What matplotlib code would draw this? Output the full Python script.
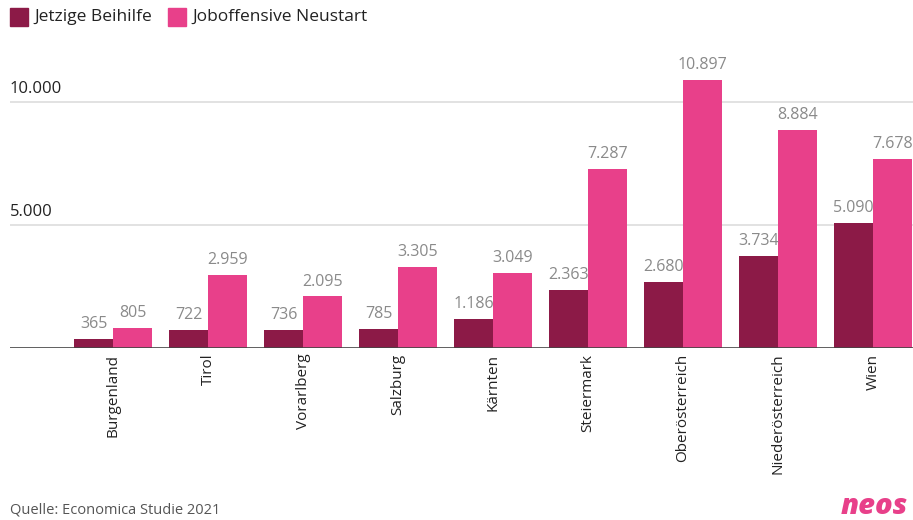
import numpy as np
import matplotlib.pyplot as plt
from matplotlib import transforms

# data
regions = ["Burgenland", "Tirol", "Vorarlberg", "Salzburg", "Kärnten",
           "Steiermark", "Oberösterreich", "Niederösterreich", "Wien"]
jetzige = [365, 722, 736, 785, 1186, 2363, 2680, 3734, 5090]
neustart = [805, 2959, 2095, 3305, 3049, 7287, 10897, 8884, 7678]
yticks = [5000, 10000]
series_names = ["Jetzige Beihilfe", "Joboffensive Neustart"]

dark = "#8c1a47"
pink = "#e8408a"


def fmt(v):
    return f"{v:,}".replace(",", ".")


plt.rcParams['font.family'] = ['Open Sans', 'DejaVu Sans']

fig = plt.figure(figsize=(9.13, 5.2), dpi=100)
ax = fig.add_axes([10 / 913, 172 / 520, 903 / 913, 295 / 520])

x = np.arange(len(regions))
w = 0.41
b1 = ax.bar(x - w / 2, jetzige, w, color=dark, zorder=3)
b2 = ax.bar(x + w / 2, neustart, w, color=pink, zorder=3)

ax.set_xlim(-1.084, 8.42)
ax.set_ylim(0, 12000)

for s in ax.spines.values():
    s.set_visible(False)
ax.axhline(0, color="#444444", lw=1.2, zorder=4)
offset = transforms.ScaledTranslation(0, 5 / 100, fig.dpi_scale_trans)
for t in yticks:
    ax.axhline(t, color="#dddddd", lw=1.2, zorder=1)
    ax.text(0, t, fmt(t), transform=ax.get_yaxis_transform() + offset,
            ha="left", va="bottom", fontsize=12, color="#222222")

ax.set_yticks([])
ax.set_xticks(x)
ax.set_xticklabels(regions, rotation=90, fontsize=11, color="#222222")
ax.tick_params(axis="x", length=0, pad=4)

for bars, vals in ((b1, jetzige), (b2, neustart)):
    for r, v in zip(bars, vals):
        ax.annotate(fmt(v), (r.get_x() + r.get_width() / 2, v),
                    xytext=(0, 5), textcoords="offset points",
                    ha="center", va="bottom", fontsize=11.5, color="#8a8a8a",
                    zorder=5)

# legend
fig.patches.append(plt.Rectangle((10 / 913, 1 - 26 / 520), 18 / 913, 18 / 520,
                                 transform=fig.transFigure, color=dark))
fig.text(34 / 913, 1 - 17 / 520, series_names[0], fontsize=12.5,
         color="#222222", va="center")
fig.patches.append(plt.Rectangle((168 / 913, 1 - 26 / 520), 18 / 913, 18 / 520,
                                 transform=fig.transFigure, color=pink))
fig.text(192 / 913, 1 - 17 / 520, series_names[1], fontsize=12.5,
         color="#222222", va="center")

fig.text(10 / 913, 1 - 510 / 520, "Quelle: Economica Studie 2021",
         fontsize=10.5, color="#555555", va="center")
fig.text(908 / 913, 1 - 507 / 520, "neos", fontsize=21, fontweight="heavy",
         style="italic", color=pink, va="center", ha="right")

fig.savefig("out.png", dpi=100)
